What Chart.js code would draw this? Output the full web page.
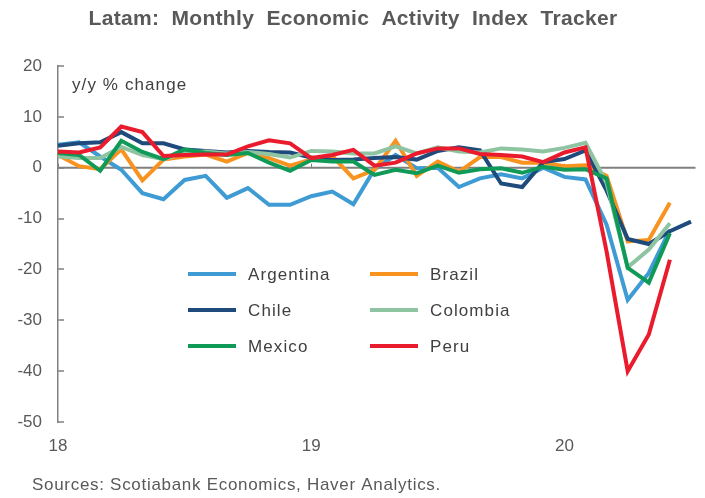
<!DOCTYPE html>
<html>
<head>
<meta charset="utf-8">
<script src="https://cdn.jsdelivr.net/npm/chart.js@4.4.1/dist/chart.umd.min.js"></script>
<style>
  html, body { margin: 0; padding: 0; background: #fff; }
</style>
</head>
<body>
<canvas id="chart" width="705" height="498"></canvas>
<script>
// monthly observations, Jan 2018 .. Jul 2020
const months = [
  '2018-01','2018-02','2018-03','2018-04','2018-05','2018-06','2018-07','2018-08','2018-09','2018-10','2018-11','2018-12',
  '2019-01','2019-02','2019-03','2019-04','2019-05','2019-06','2019-07','2019-08','2019-09','2019-10','2019-11','2019-12',
  '2020-01','2020-02','2020-03','2020-04','2020-05','2020-06','2020-07'
];
const yearLabels = { '2018-01': '18', '2019-01': '19', '2020-01': '20' };
const yTicks = [20, 10, 0, -10, -20, -30, -40, -50];

// y/y % change
const argentina = [4.5, 5.0, 2.2, -0.4, -5.0, -6.2, -2.4, -1.6, -5.9, -4.0, -7.3, -7.3,
  -5.6, -4.7, -7.2, -0.3, 2.5, -0.1, 0.0, -3.8, -2.1, -1.3, -2.1, 0.0,
  -1.8, -2.3, -11.2, -26.0, -20.7, -12.2, null];
const brazil = [2.5, 0.3, -0.3, 3.6, -2.5, 1.6, 2.2, 2.6, 1.2, 2.9, 1.9, 0.4,
  1.6, 2.3, -2.1, -0.4, 5.3, -1.6, 1.2, -0.8, 2.1, 2.1, 1.0, 1.0,
  0.3, 0.5, -1.6, -14.5, -14.2, -6.9, null];
const chile = [4.3, 4.8, 5.0, 7.0, 4.8, 4.8, 3.6, 3.3, 3.0, 3.3, 3.1, 3.0,
  2.0, 1.5, 1.6, 1.9, 2.1, 1.6, 3.3, 4.0, 3.4, -3.1, -3.8, 1.1,
  1.7, 3.4, -4.5, -14.0, -15.0, -12.5, -10.6];
const colombia = [2.2, 1.9, 1.9, 4.1, 2.5, 1.7, 3.0, 3.2, 2.8, 3.1, 2.7, 2.0,
  3.3, 3.2, 2.8, 2.8, 4.2, 2.8, 4.0, 3.2, 3.0, 3.8, 3.6, 3.2,
  3.9, 4.9, -3.0, -19.6, -16.1, -10.9, null];
const mexico = [2.9, 2.5, -0.6, 5.3, 3.1, 1.7, 3.6, 2.9, 2.5, 2.9, 1.0, -0.6,
  1.5, 1.2, 1.2, -1.4, -0.4, -1.1, 0.4, -1.0, -0.3, -0.1, -1.0, 0.2,
  -0.4, -0.3, -2.1, -19.7, -22.6, -12.9, null];
const peru = [3.2, 3.0, 4.0, 8.1, 7.0, 2.3, 2.5, 2.6, 2.6, 4.2, 5.4, 4.8,
  1.9, 2.5, 3.5, 0.4, 1.0, 2.8, 3.8, 3.8, 2.7, 2.5, 2.2, 1.1,
  3.0, 4.0, -16.5, -40.0, -32.8, -18.1, null];

const seriesNames = ['Argentina', 'Brazil', 'Chile', 'Colombia', 'Mexico', 'Peru'];
const seriesData = [argentina, brazil, chile, colombia, mexico, peru];
const seriesColors = ['#3E9BD3', '#F7931E', '#1F4A7C', '#8FC4A2', '#0F9A58', '#EA1B2D'];

const textGrey = '#595959';
const axisGrey = '#808080';
const fontFamily = '"Liberation Sans", Arial, sans-serif';

// chart area edges (pixels)
const area = { left: 58, right: 695.5, top: 66, bottom: 422 };

const extras = {
  id: 'extras',
  beforeDatasetsDraw(chart) {
    const ctx = chart.ctx;
    const x = chart.scales.x, y = chart.scales.y;
    const y0 = y.getPixelForValue(0);
    ctx.save();
    // zero line
    ctx.strokeStyle = axisGrey;
    ctx.lineWidth = 2;
    ctx.beginPath();
    ctx.moveTo(area.left, y0);
    ctx.lineTo(area.right, y0);
    ctx.stroke();
    // small year ticks on the zero line
    ctx.lineWidth = 1;
    Object.keys(yearLabels).forEach(m => {
      const px = Math.round(x.getPixelForValue(months.indexOf(m))) + 0.5;
      ctx.beginPath();
      ctx.moveTo(px, y0 - 4);
      ctx.lineTo(px, y0);
      ctx.stroke();
    });
    // y ticks pointing inwards
    ctx.lineWidth = 1.5;
    yTicks.forEach(v => {
      const py = Math.round(y.getPixelForValue(v));
      ctx.beginPath();
      ctx.moveTo(area.left, py);
      ctx.lineTo(area.left + 6, py);
      ctx.stroke();
    });
    ctx.restore();
  },
  afterDraw(chart) {
    const ctx = chart.ctx;
    ctx.save();
    ctx.fillStyle = textGrey;
    ctx.textBaseline = 'middle';
    ctx.textAlign = 'center';
    ctx.font = 'bold 21px ' + fontFamily;
    ctx.letterSpacing = '0.3px';
    ctx.fillText('Latam:  Monthly  Economic  Activity  Index  Tracker', 353, 19);

    ctx.textAlign = 'left';
    ctx.font = '17px ' + fontFamily;
    ctx.letterSpacing = '1.1px';
    ctx.fillStyle = '#404040';
    ctx.fillText('y/y % change', 72, 85);

    ctx.letterSpacing = '0.7px';
    ctx.fillStyle = textGrey;
    ctx.fillText('Sources: Scotiabank Economics, Haver Analytics.', 32, 485);

    // legend, two columns
    const cols = [188, 370];
    const rows = [274, 310, 346];
    ctx.letterSpacing = '1.1px';
    chart.data.datasets.forEach((ds, i) => {
      const lx = cols[i % 2];
      const ly = rows[Math.floor(i / 2)];
      ctx.strokeStyle = ds.borderColor;
      ctx.lineWidth = 4;
      ctx.beginPath();
      ctx.moveTo(lx, ly);
      ctx.lineTo(lx + 48, ly);
      ctx.stroke();
      ctx.fillStyle = '#404040';
      ctx.fillText(ds.label, lx + 60, ly + 1);
    });
    ctx.restore();
  }
};

new Chart(document.getElementById('chart'), {
  type: 'line',
  data: {
    labels: months,
    datasets: seriesNames.map((name, i) => ({
      label: name,
      data: seriesData[i],
      borderColor: seriesColors[i],
      backgroundColor: seriesColors[i],
      borderWidth: 4,
      pointRadius: 0,
      tension: 0,
      order: seriesNames.length - i
    }))
  },
  plugins: [extras],
  options: {
    responsive: false,
    animation: false,
    devicePixelRatio: 1,
    layout: { padding: { top: area.top, right: 705 - area.right, bottom: 0, left: 0 } },
    plugins: { legend: { display: false }, title: { display: false }, tooltip: { enabled: false } },
    scales: {
      x: {
        offset: false,
        grid: { display: false, drawTicks: false },
        border: { display: false },
        afterFit(scale) { scale.height = 498 - area.bottom; },
        ticks: {
          autoSkip: false,
          maxRotation: 0,
          padding: 14,
          color: textGrey,
          font: { family: fontFamily, size: 17 },
          callback(value) { return yearLabels[months[value]] || ''; }
        }
      },
      y: {
        min: -50,
        max: 20,
        afterFit(scale) { scale.width = area.left; },
        afterBuildTicks(scale) { scale.ticks = yTicks.map(v => ({ value: v })); },
        grid: { display: false, drawTicks: false },
        border: { display: true, color: axisGrey, width: 1.5 },
        ticks: {
          padding: 16,
          color: textGrey,
          font: { family: fontFamily, size: 17 }
        }
      }
    }
  }
});
</script>
</body>
</html>
